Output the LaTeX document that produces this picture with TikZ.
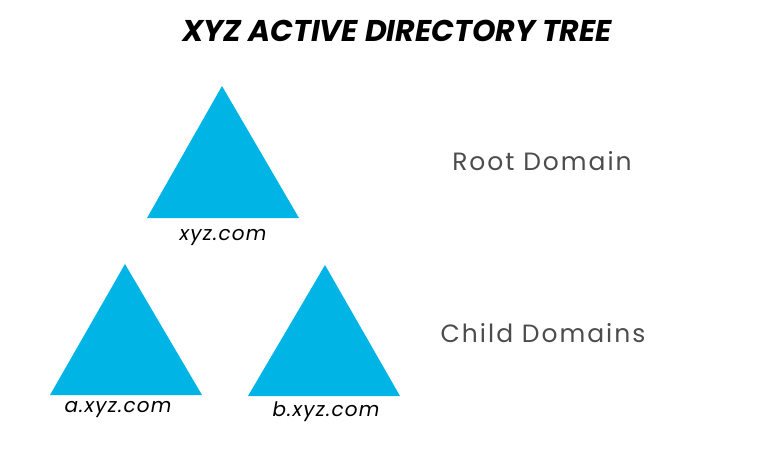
\documentclass[tikz,border=0pt]{standalone}
\usepackage{fontspec}
\setmainfont{Poppins}
\usetikzlibrary{positioning}
\definecolor{domainblue}{RGB}{0,180,230}

\begin{document}
\begin{tikzpicture}[
    x=1pt, y=-1pt,
    domaintri/.style={fill=domainblue, draw=none},
    dname/.style={font=\fontsize{20}{24}\selectfont\itshape\addfontfeatures{LetterSpace=6}, inner sep=0pt},
    levellabel/.style={font=\fontsize{25}{30}\selectfont\addfontfeatures{LetterSpace=8}, text=black!70}
]
  \useasboundingbox (0,0) rectangle (768,467);

  \node[font=\fontsize{30}{35}\selectfont\bfseries\itshape] (title) at (397,31) {XYZ ACTIVE DIRECTORY TREE};

  % root domain
  \coordinate (rtop) at (222,86);
  \coordinate (rleft) at (147,218);
  \coordinate (rright) at (299,218);
  \fill[domaintri] (rtop) -- (rleft) -- (rright) -- cycle;
  \node[dname] (root) at (223,237) {xyz.com};

  % child domains
  \coordinate (atop) at (125,264);
  \coordinate (aleft) at (50,395);
  \coordinate (aright) at (202,395);
  \fill[domaintri] (atop) -- (aleft) -- (aright) -- cycle;
  \node[dname] (childa) at (118,409) {a.xyz.com};

  \coordinate (btop) at (325,265);
  \coordinate (bleft) at (248,396);
  \coordinate (bright) at (400,396);
  \fill[domaintri] (btop) -- (bleft) -- (bright) -- cycle;
  \node[dname] (childb) at (326,412) {b.xyz.com};

  \node[levellabel] (rootlabel) at (542,161) {Root Domain};
  \node[levellabel] (childlabel) at (543,333) {Child Domains};
\end{tikzpicture}
\end{document}
